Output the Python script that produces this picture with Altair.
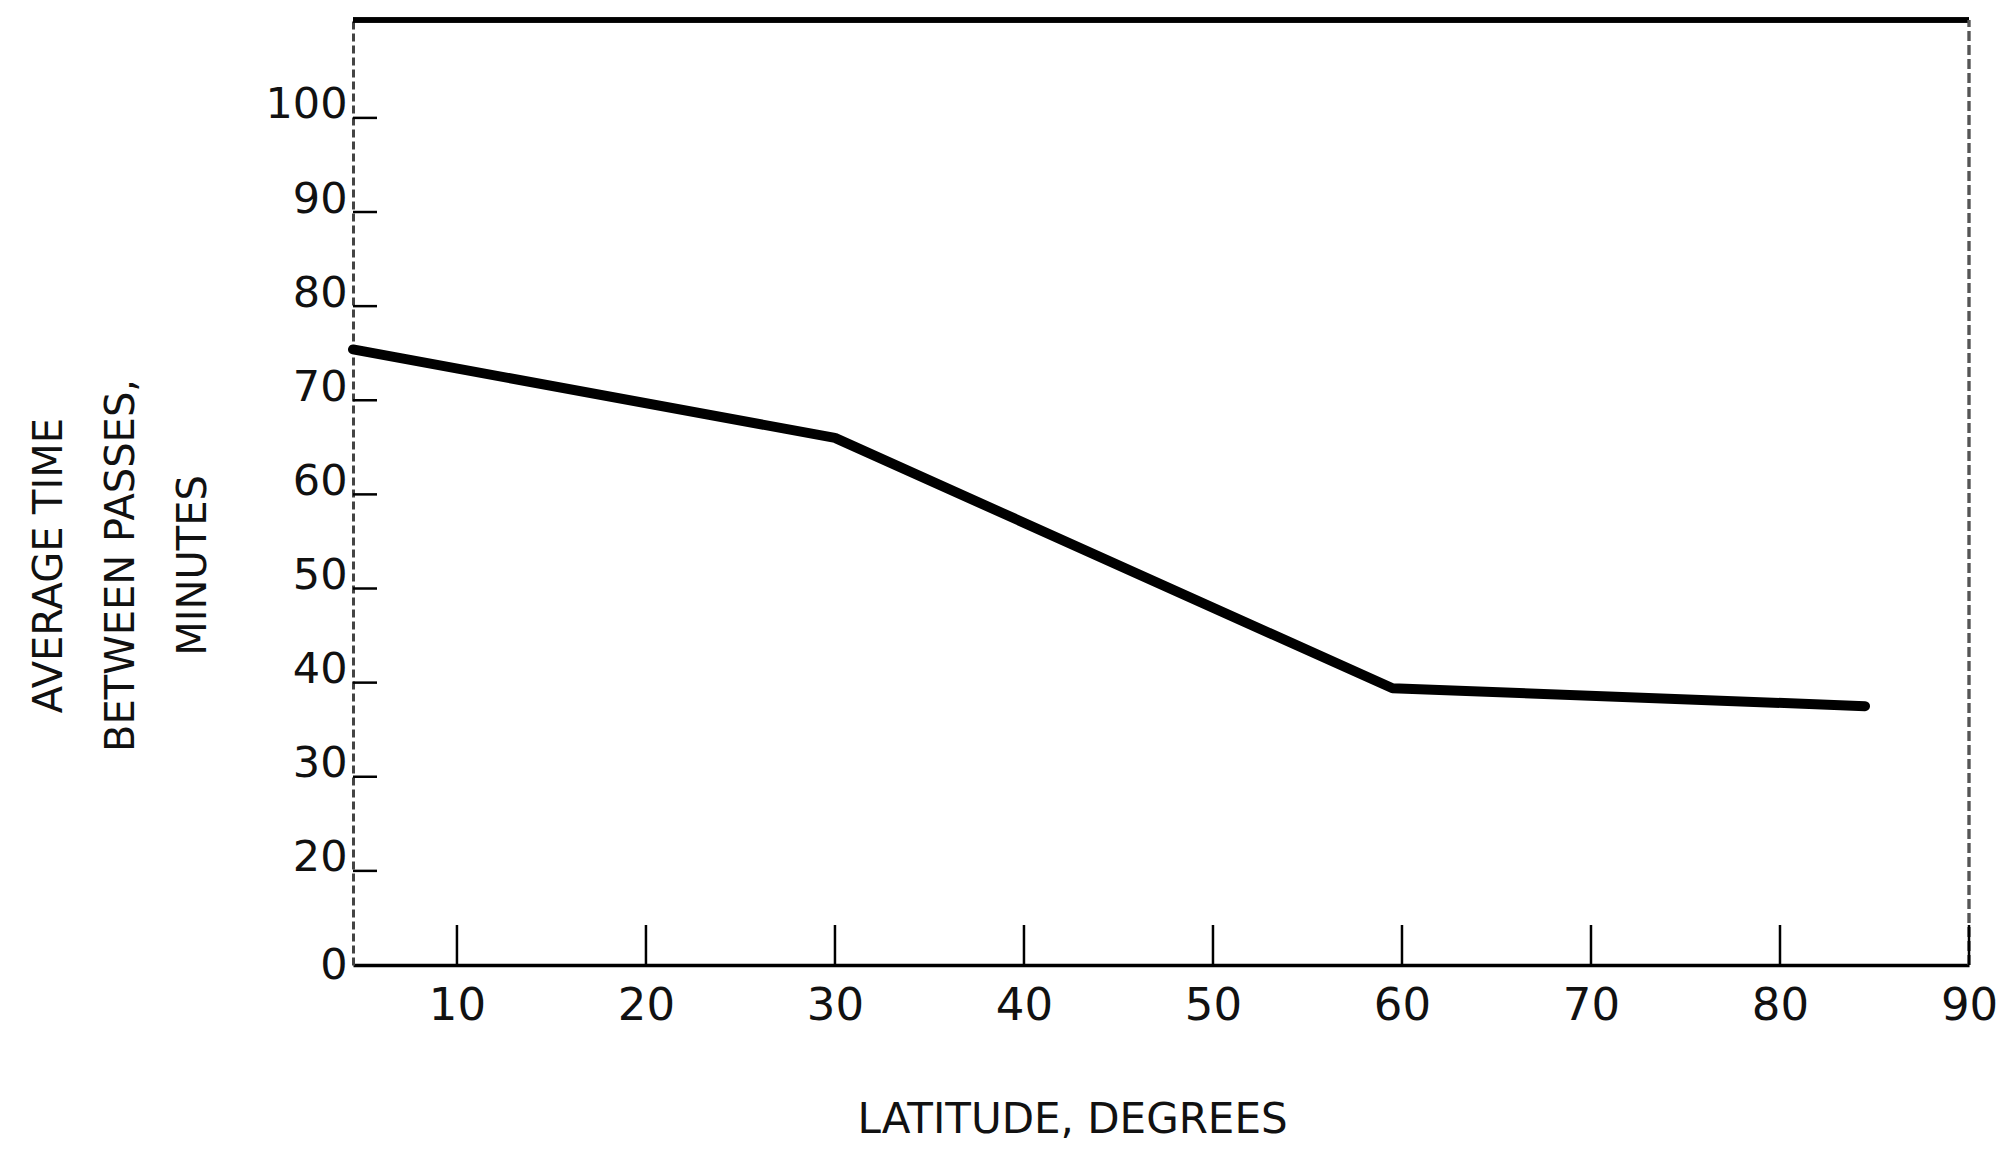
import altair as alt
import pandas as pd

# ---- data ----
latitude = [4.5, 30, 59.5, 84.5]
minutes = [75.4, 66.0, 39.4, 37.5]

x_tick_values = [10, 20, 30, 40, 50, 60, 70, 80, 90]
# the original figure places "0" one interval below "20"
y_tick_values = [10, 20, 30, 40, 50, 60, 70, 80, 90, 100]
y_tick_labels = ["0", "20", "30", "40", "50", "60", "70", "80", "90", "100"]

x_domain = [4.5, 90]
y_domain = [10, 110.4]

W, H = 1616, 945
FONT = "DejaVu Sans"

line_df = pd.DataFrame({"lat": latitude, "minutes": minutes})
ytick_df = pd.DataFrame({"minutes": y_tick_values[1:]})
xtick_df = pd.DataFrame({"lat": x_tick_values})

label_map = " : ".join(
    f"datum.value == {v} ? '{l}'" for v, l in zip(y_tick_values, y_tick_labels)
) + " : datum.label"

xscale = alt.Scale(domain=x_domain, nice=False, zero=False)
yscale = alt.Scale(domain=y_domain, nice=False, zero=False)

xaxis = alt.Axis(
    values=x_tick_values, ticks=False, grid=False,
    labelFont=FONT, labelFontSize=45, labelColor="#111",
    labelPadding=18, labelBaseline="top", labelFlush=False,
    domainColor="#000", domainWidth=3.5,
    title="LATITUDE, DEGREES", titleFont=FONT, titleFontSize=42,
    titleFontWeight="normal", titleColor="#111",
    titleX=719, titleY=154, titleBaseline="middle", titleAlign="center",
)
yaxis = alt.Axis(
    values=y_tick_values, ticks=False, grid=False, labelExpr=label_map,
    labelFont=FONT, labelFontSize=43, labelColor="#111",
    labelPadding=6, labelAlign="right",
    labelBaseline={"condition": {"test": "datum.value == 10", "value": "middle"},
                   "value": "alphabetic"},
    labelFlush=False,
    domainColor="#444", domainWidth=3, domainDash=[8, 4],
    title=["AVERAGE  TIME", "BETWEEN PASSES,", "MINUTES"],
    titleFont=FONT, titleFontSize=40, titleFontWeight="normal", titleColor="#111",
    titleLineHeight=72, titleAngle=270,
    titleX=-304, titleY=545, titleBaseline="middle", titleAlign="center",
)

X = alt.X("lat:Q", scale=xscale, axis=xaxis)
Y = alt.Y("minutes:Q", scale=yscale, axis=yaxis)

curve = alt.Chart(line_df).mark_line(
    color="#000", strokeWidth=10, strokeCap="round", strokeJoin="round"
).encode(x=X, y=Y)

yticks = alt.Chart(ytick_df).mark_rule(color="#000", strokeWidth=2.5).encode(
    y=Y, x=alt.value(0), x2=alt.value(24)
)
xticks = alt.Chart(xtick_df).mark_rule(color="#000", strokeWidth=2.5).encode(
    x=X, y=alt.value(H), y2=alt.value(H - 40)
)

top_border = alt.Chart(line_df).mark_rule(color="#000", strokeWidth=5).encode(
    y=alt.datum(y_domain[1]), x=alt.datum(x_domain[0]), x2=alt.datum(x_domain[1])
)
right_border = alt.Chart(line_df).mark_rule(
    color="#555", strokeWidth=2.5, strokeDash=[10, 4]
).encode(
    x=alt.datum(x_domain[1]), y=alt.datum(y_domain[0]), y2=alt.datum(y_domain[1])
)

chart = (
    alt.layer(top_border, right_border, yticks, xticks, curve)
    .properties(
        width=W, height=H,
        autosize=alt.AutoSizeParams(type="none"),
        padding={"left": 345, "top": 12, "right": 37, "bottom": 179},
        background="white",
    )
    .configure_view(stroke=None)
)

chart.save("out.html", embed_options={"renderer": "svg", "actions": False})
